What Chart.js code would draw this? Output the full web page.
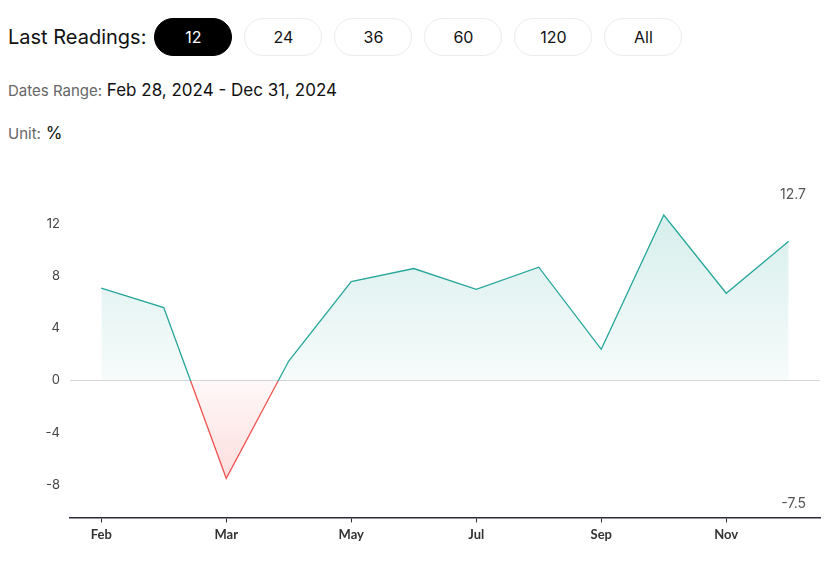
<!DOCTYPE html>
<html>
<head>
<meta charset="utf-8">
<script src="https://cdn.jsdelivr.net/npm/chart.js@4"></script>
<style>
    body { margin: 0; background: #fff; font-family: Inter, "Noto Sans", sans-serif; color: #111; }
    .top { position: absolute; left: 8px; top: 18px; display: flex; align-items: center; }
    .top .title { font-size: 20px; margin-right: 8px; }
    .pill { width: 78px; height: 38px; box-sizing: border-box; border: 1px solid #ececec; border-radius: 19px;
            display: flex; align-items: center; justify-content: center; font-size: 16px; margin-right: 12px; }
    .pill.active { background: #000; color: #fff; border-color: #000; }
    .info { position: absolute; left: 8px; font-size: 17px; }
    .info span { color: #666; font-size: 15px; }
    #wrap { position: absolute; left: 0; top: 150px; width: 828px; height: 415px; }
</style>
</head>
<body>
<div class="top">
    <div class="title">Last Readings:</div>
    <div class="pill active">12</div>
    <div class="pill">24</div>
    <div class="pill">36</div>
    <div class="pill">60</div>
    <div class="pill">120</div>
    <div class="pill">All</div>
</div>
<div class="info" style="top:80px"><span>Dates Range:</span> Feb 28, 2024 - Dec 31, 2024</div>
<div class="info" style="top:123px"><span>Unit:</span> %</div>
<div id="wrap"><canvas id="chart"></canvas></div>
<script>
// readings, one per point
const categories = ['Feb 28', 'Mar 15', 'Mar 31', 'Apr 15', 'Apr 30', 'May 31', 'Jun 30', 'Jul 31', 'Aug 31', 'Sep 30', 'Oct 31', 'Dec 31'];
const values = [7.1, 5.6, -7.5, 1.5, 7.6, 8.6, 7.0, 8.7, 2.4, 12.7, 6.7, 10.7];
const xTickLabels = ['Feb', '', 'Mar', '', 'May', '', 'Jul', '', 'Sep', '', 'Nov', ''];
const yTicks = [-8, -4, 0, 4, 8, 12];

const upColor = '#26a69a';
const downColor = '#ef5350';

// split line colour at the zero line
function lineGradient(context) {
    const chart = context.chart;
    const area = chart.chartArea;
    if (!area) return upColor;
    const y0 = chart.scales.y.getPixelForValue(0);
    const stop = Math.min(Math.max((y0 - area.top) / (area.bottom - area.top), 0), 1);
    const g = chart.ctx.createLinearGradient(0, area.top, 0, area.bottom);
    g.addColorStop(0, upColor);
    g.addColorStop(stop, upColor);
    g.addColorStop(stop, downColor);
    g.addColorStop(1, downColor);
    return g;
}

function aboveFill(context) {
    const chart = context.chart;
    const area = chart.chartArea;
    if (!area) return 'rgba(38,166,154,0.15)';
    const y0 = chart.scales.y.getPixelForValue(0);
    const g = chart.ctx.createLinearGradient(0, area.top, 0, y0);
    g.addColorStop(0, 'rgba(38,166,154,0.22)');
    g.addColorStop(1, 'rgba(38,166,154,0.04)');
    return g;
}

function belowFill(context) {
    const chart = context.chart;
    const area = chart.chartArea;
    if (!area) return 'rgba(239,83,80,0.15)';
    const y0 = chart.scales.y.getPixelForValue(0);
    const g = chart.ctx.createLinearGradient(0, y0, 0, area.bottom);
    g.addColorStop(0, 'rgba(239,83,80,0.04)');
    g.addColorStop(1, 'rgba(239,83,80,0.25)');
    return g;
}

// max / min labels on the right side
const extremesPlugin = {
    id: 'extremes',
    afterDraw(chart) {
        const ctx = chart.ctx;
        const area = chart.chartArea;
        const max = Math.max(...values);
        const min = Math.min(...values);
        ctx.save();
        ctx.font = '14px Inter, "Noto Sans", sans-serif';
        ctx.fillStyle = '#555';
        ctx.textAlign = 'right';
        ctx.textBaseline = 'middle';
        ctx.fillText(max.toFixed(1), area.right - 14, area.top + 19);
        ctx.fillText(min.toFixed(1), area.right - 14, area.bottom - 14);
        ctx.restore();
    }
};

new Chart(document.getElementById('chart'), {
    type: 'line',
    data: {
        labels: categories,
        datasets: [{
            data: values,
            borderColor: lineGradient,
            borderWidth: 1.3,
            pointRadius: 0,
            tension: 0,
            fill: { target: 'origin', above: aboveFill, below: belowFill }
        }]
    },
    options: {
        responsive: true,
        maintainAspectRatio: false,
        animation: false,
        layout: { padding: { top: 26, right: 8, bottom: 17 } },
        plugins: { legend: { display: false }, tooltip: { enabled: false } },
        scales: {
            x: {
                offset: true,
                border: { color: '#2b2b3a', width: 1.5 },
                grid: {
                    drawOnChartArea: false,
                    tickLength: 5,
                    color: ctx => xTickLabels[ctx.index] ? '#2b2b3a' : 'rgba(0,0,0,0)'
                },
                ticks: {
                    autoSkip: false,
                    maxRotation: 0,
                    padding: 5,
                    color: '#333',
                    font: { family: 'Lato', size: 13, weight: 'bold' },
                    callback: (v, i) => xTickLabels[i]
                }
            },
            y: {
                min: -10.5,
                max: 15.7,
                afterBuildTicks: scale => { scale.ticks = yTicks.map(v => ({ value: v })); },
                afterFit: scale => { scale.width = 70; },
                border: { display: false },
                grid: {
                    drawTicks: false,
                    color: ctx => ctx.tick && ctx.tick.value === 0 ? '#d8d8d8' : 'rgba(0,0,0,0)'
                },
                ticks: {
                    padding: 10,
                    color: '#444',
                    font: { family: 'Inter', size: 13 }
                }
            }
        }
    },
    plugins: [extremesPlugin]
});
</script>
</body>
</html>
